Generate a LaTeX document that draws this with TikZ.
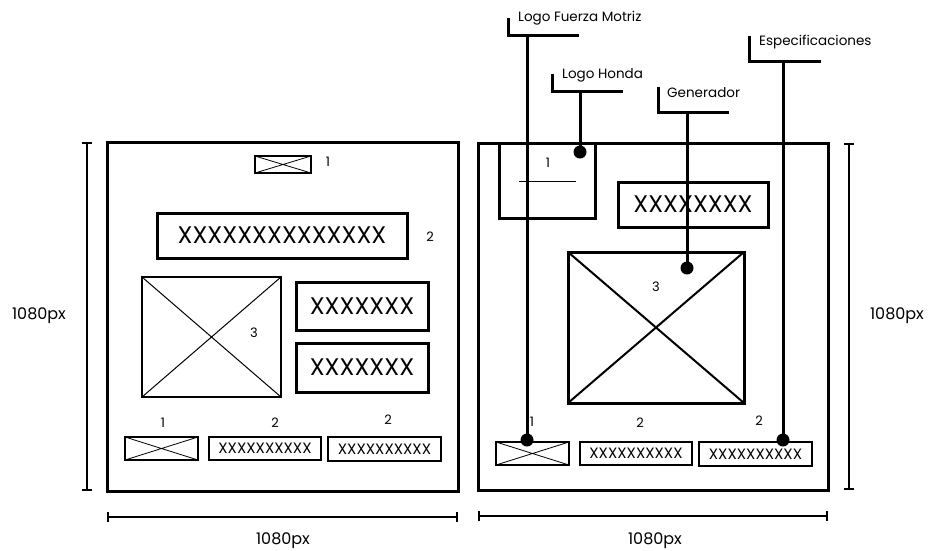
\documentclass[tikz,border=0pt]{standalone}
\usepackage{fontspec}
\setmainfont{Poppins}
\usetikzlibrary{arrows.meta}
\tikzset{
  frame/.style={draw,line width=3pt,outer sep=0pt,inner sep=0pt},
  txtbox/.style={draw,line width=3pt,inner sep=0pt,font=\fontsize{24}{26}\selectfont},
  smallbox/.style={draw,line width=2.2pt,inner sep=0pt,minimum width=112pt,minimum height=23pt,font=\fontsize{15}{16}\selectfont},
  imgbox/.style={draw,inner sep=0pt,path picture={\draw[line width=#1] (path picture bounding box.north west) -- (path picture bounding box.south east) (path picture bounding box.north east) -- (path picture bounding box.south west);}},
  num/.style={inner sep=0pt,font=\fontsize{13}{14}\selectfont},
  dimlab/.style={inner sep=0pt,font=\fontsize{16}{17}\selectfont},
  callout/.style={anchor=west,inner sep=0pt,font=\fontsize{13.5}{15}\selectfont},
  lead/.style={line width=3pt},
  dot/.style={circle,fill,inner sep=0pt,minimum size=13pt},
  dim/.style={line width=2pt,{Bar[width=10pt,line width=2pt]}-{Bar[width=10pt,line width=2pt]}}
}
\begin{document}
\begin{tikzpicture}[x=1pt,y=-1pt]
\useasboundingbox[fill=white] (0,0) rectangle (929,550);
\begin{scope}
\node[frame,minimum width=351pt,minimum height=349pt] (fL) at (282.5,316.5) {};
\draw[dim] ([xshift=-20pt]fL.north west) -- ([xshift=-20pt]fL.south west);
\draw[dim] ([yshift=-26pt]fL.south west) -- ([yshift=-26pt]fL.south east);
\node[dimlab] (hL) at (39,316) {1080px};
\node[dimlab] (wL) at (283,541) {1080px};
\node[imgbox=0.8pt,line width=2.2pt,minimum width=56pt,minimum height=17pt] (logoL) at (283,164.5) {};
\node[num] (n1L) at (328,162) {1};
\node[txtbox,minimum width=250pt,minimum height=45pt] (titL) at (282,235.5) {XXXXXXXXXXXXXX};
\node[num] (n2L) at (430,237) {2};
\node[imgbox=1pt,line width=2pt,minimum width=139pt,minimum height=120pt] (imgL) at (211.5,337) {};
\node[num] (n3L) at (254,333) {3};
\node[txtbox,minimum width=132pt,minimum height=48pt] (taL) at (362,306) {XXXXXXX};
\node[txtbox,minimum width=132pt,minimum height=49pt] (tbL) at (362,367.5) {XXXXXXX};
\node[imgbox=0.8pt,line width=2.2pt,minimum width=73pt,minimum height=23pt] (icoL) at (161.5,448.5) {};
\node[smallbox] (saL) at (265,448.5) {XXXXXXXXXX};
\node[smallbox,minimum width=113pt,minimum height=24pt] (sbL) at (384.5,449) {XXXXXXXXXX};
\node[num] (m1L) at (163,423) {1};
\node[num] (m2L) at (275,423) {2};
\node[num] (m3L) at (388,420) {2};
\end{scope}
\begin{scope}
\node[frame,minimum width=350pt,minimum height=347pt] (fR) at (653,316.5) {};
\draw[dim] ([xshift=21pt]fR.north east) -- ([xshift=21pt]fR.south east);
\draw[dim] ([yshift=-26pt]fR.south west) -- ([yshift=-26pt]fR.south east);
\node[dimlab] (hR) at (897,316) {1080px};
\node[dimlab] (wR) at (655,541) {1080px};
\node[frame,minimum width=96pt,minimum height=75pt] (logoR) at (547,180.5) {};
\node[num] (n1R) at (548,163) {1};
\draw[line width=1pt] (519,181) -- (576,181);
\node[txtbox,minimum width=150pt,minimum height=45pt] (titR) at (693,204.5) {XXXXXXXX};
\node[imgbox=2pt,line width=3pt,minimum width=176pt,minimum height=151pt] (imgR) at (656,327.5) {};
\node[num] (n3R) at (656,287) {3};
\node[imgbox=0.8pt,line width=2.2pt,minimum width=73pt,minimum height=23pt] (icoR) at (532.5,453.5) {};
\node[smallbox] (saR) at (636,453.5) {XXXXXXXXXX};
\node[smallbox,minimum width=113pt,minimum height=24pt] (sbR) at (755.5,454) {XXXXXXXXXX};
\node[num] (m1R) at (532,422) {1};
\node[num] (m2R) at (640,423) {2};
\node[num] (m3R) at (759,421) {2};
\end{scope}
\node[callout] (cFM) at (518,18) {Logo Fuerza Motriz};
\node[callout] (cHo) at (562,75) {Logo Honda};
\node[callout] (cGe) at (667,93) {Generador};
\node[callout] (cEs) at (759,42) {Especificaciones};
\draw[lead] (508,18) |- (579,35);
\draw[lead] (552,74) |- (623,91);
\draw[lead] (658,87) |- (729,112);
\draw[lead] (749,36) |- (821,61);
\coordinate (kFM) at (527,35);
\coordinate (kHo) at (580,91);
\coordinate (kGe) at (687,112);
\coordinate (kEs) at (783,61);
\node[dot] (dFM) at (527,440) {};
\node[dot] (dHo) at (580,152) {};
\node[dot] (dGe) at (687,268) {};
\node[dot] (dEs) at (783,440) {};
\draw[lead] (kFM) -- (dFM.center);
\draw[lead] (kHo) -- (dHo.center);
\draw[lead] (kGe) -- (dGe.center);
\draw[lead] (kEs) -- (dEs.center);
\end{tikzpicture}
\end{document}
